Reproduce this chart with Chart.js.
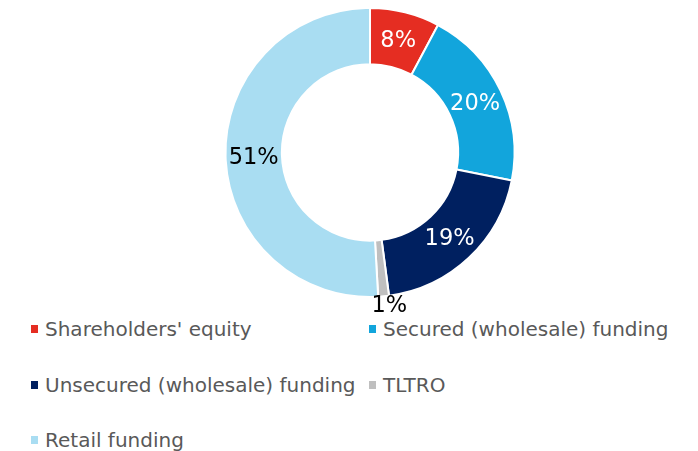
<!DOCTYPE html>
<html>
<head>
<meta charset="utf-8">
<script src="https://cdn.jsdelivr.net/npm/chart.js@4/dist/chart.umd.min.js"></script>
<style>
  html, body { margin: 0; padding: 0; background: #fff; }
  #wrap { position: relative; width: 698px; height: 451px; }
  #chartBox { position: absolute; left: 0; top: 0; width: 698px; height: 315px; }
  #legend {
    position: absolute; left: 31px; top: 316px;
    display: grid; grid-template-columns: 338px 320px; grid-auto-rows: 55.5px;
    font-family: "DejaVu Sans", Verdana, sans-serif;
    font-size: 20px; color: #595959;
  }
  .item { display: flex; align-items: center; height: 26px; white-space: nowrap; }
  .box { width: 7px; height: 8px; margin-right: 7px; flex: none; }
</style>
</head>
<body>
<div id="wrap">
  <div id="chartBox"><canvas id="fundingChart"></canvas></div>
  <div id="legend"></div>
</div>
<script>
// Funding mix (share of total)
const categories = ['Shareholders\' equity', 'Secured (wholesale) funding', 'Unsecured (wholesale) funding', 'TLTRO', 'Retail funding'];
const shares = [7.8, 20.3, 19.8, 1.2, 50.9];
const shareLabels = ['8%', '20%', '19%', '1%', '51%'];
const colors = ['#E52D22', '#12A5DC', '#002060', '#BFBFBF', '#A9DDF2'];
const labelColors = ['#fff', '#fff', '#fff', '#000', '#000'];

// draws the percentage on each slice, small ones just outside the ring
const sliceLabels = {
  id: 'sliceLabels',
  afterDatasetsDraw(chart) {
    const ctx = chart.ctx;
    const arcs = chart.getDatasetMeta(0).data;
    ctx.save();
    ctx.font = '22.5px "DejaVu Sans", sans-serif';
    ctx.textAlign = 'center';
    ctx.textBaseline = 'middle';
    arcs.forEach((arc, i) => {
      const p = arc.getProps(['x', 'y', 'startAngle', 'endAngle', 'innerRadius', 'outerRadius'], true);
      const mid = (p.startAngle + p.endAngle) / 2;
      let r = (p.innerRadius + p.outerRadius) / 2;
      if (shares[i] < 3) r = p.outerRadius + 8;
      const x = p.x + Math.cos(mid) * r + (shares[i] < 3 ? 5 : 0);
      const y = p.y + Math.sin(mid) * r + 2;
      ctx.fillStyle = labelColors[i];
      ctx.fillText(shareLabels[i], x, y);
    });
    ctx.restore();
  }
};

const ctxPie = document.getElementById('fundingChart').getContext('2d');
const fundingChart = new Chart(ctxPie, {
  type: 'doughnut',
  data: {
    labels: categories,
    datasets: [{
      data: shares,
      backgroundColor: colors,
      borderColor: '#fff',
      borderWidth: 2,
      hoverOffset: 0
    }]
  },
  options: {
    responsive: true,
    maintainAspectRatio: false,
    animation: false,
    cutout: '61%',
    layout: { padding: { left: 42, right: 0, top: 7, bottom: 17 } },
    plugins: {
      legend: { display: false },
      tooltip: { enabled: false }
    }
  },
  plugins: [sliceLabels]
});

// legend in two columns like the original
const legendEl = document.getElementById('legend');
categories.forEach((name, i) => {
  const item = document.createElement('div');
  item.className = 'item';
  item.innerHTML = '<span class="box" style="background:' + colors[i] + '"></span><span>' + name + '</span>';
  legendEl.appendChild(item);
});
</script>
</body>
</html>
